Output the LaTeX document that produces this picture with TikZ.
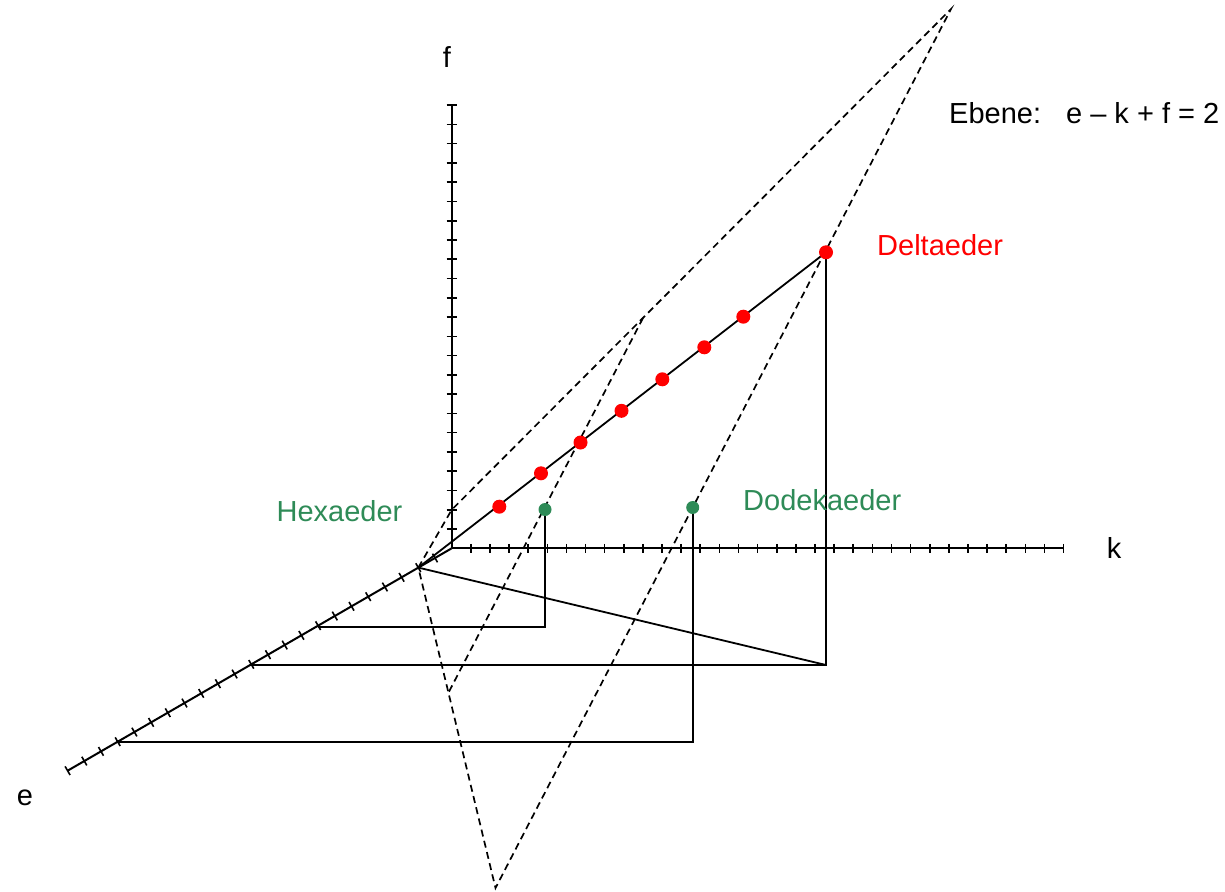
\documentclass[tikz,border=0pt]{standalone}
\usepackage{fontspec}
\setmainfont{Liberation Sans}
\definecolor{dotred}{RGB}{255,0,0}
\definecolor{dotgreen}{RGB}{46,139,87}
\begin{document}
\begin{tikzpicture}[x=1pt,y=-1pt,
  axis/.style={line width=2pt},
  tickmark/.style={line width=1.6pt},
  guide/.style={line width=1.8pt},
  planeline/.style={line width=1.7pt,dash pattern=on 7pt off 4.5pt},
  reddot/.style={circle,fill=dotred,inner sep=0pt,minimum size=14pt},
  greendot/.style={circle,fill=dotgreen,inner sep=0pt,minimum size=13pt},
  lab/.style={inner sep=0pt,font=\fontsize{29}{34}\selectfont},
]
\useasboundingbox (0,0) rectangle (1225,891);

% axes
\coordinate (O) at (451.7,548.3);
\coordinate (Kend) at (1063.5,548.3);
\coordinate (Fend) at (451.7,105.1);
\coordinate (Eend) at (67.6,770.7);
\draw[axis] (O) -- (Kend);
\draw[axis] (O) -- (Fend);
\draw[axis] (O) -- (Eend);
\foreach \i in {1,...,32} \draw[tickmark] (451.7+\i*19.12,543.8) -- ++(0,9);
\foreach \i in {1,...,23} \draw[tickmark] (446.7,548.3-\i*19.27) -- ++(10,0);
\foreach \i in {1,...,23} \draw[tickmark] (451.7-\i*16.7-2.5,548.3+\i*9.67-4.33) -- ++(5,8.66);

\node[lab] (lf) at (447,57) {f};
\node[lab] (lk) at (1114,548) {k};
\node[lab] (le) at (25,798) {e};

% plane
\coordinate (A) at (418.3,567.6);
\coordinate (F) at (451.7,509.8);
\coordinate (B) at (951,9);
\coordinate (C) at (495.5,888);
\coordinate (D) at (643,318);
\coordinate (E) at (448.3,693);
\draw[planeline] (A) -- (F) -- (B) -- (C) -- cycle;
\draw[planeline] (D) -- (E);

% feet
\coordinate (delfoot) at (826,665);
\coordinate (dele) at (251,665);
\coordinate (hexfoot) at (545,626.7);
\coordinate (hexe) at (318.2,626.7);
\coordinate (dodfoot) at (692.7,741.7);
\coordinate (dode) at (117.7,741.7);

\draw[guide] (A) -- (826,252.3);
\draw[guide] (A) -- (delfoot);
\draw[guide] (826,252.3) -- (delfoot) -- (dele);
\draw[guide] (545,509.5) -- (hexfoot) -- (hexe);
\draw[guide] (692.7,507.5) -- (dodfoot) -- (dode);

% points
\node[reddot] (d1) at (499.3,506.7) {};
\node[reddot] (d2) at (541,473.3) {};
\node[reddot] (d3) at (580.5,442.5) {};
\node[reddot] (d4) at (621.5,410.8) {};
\node[reddot] (d5) at (662.3,379.3) {};
\node[reddot] (d6) at (704.3,347.3) {};
\node[reddot] (d7) at (743.3,316.7) {};
\node[reddot] (del) at (826,252.3) {};
\node[greendot] (hex) at (545,509.5) {};
\node[greendot] (dod) at (692.7,507.5) {};

% labels
\node[lab,anchor=west,text=dotred] (ldel) at (877,245) {Deltaeder};
\node[lab,text=dotgreen] (lhex) at (339.5,511) {Hexaeder};
\node[lab,anchor=west,text=dotgreen] (ldod) at (743,500) {Dodekaeder};
\node[lab,anchor=west] (leq) at (949,113) {Ebene:\hspace{25pt}e – k + f = 2};
\end{tikzpicture}
\end{document}
